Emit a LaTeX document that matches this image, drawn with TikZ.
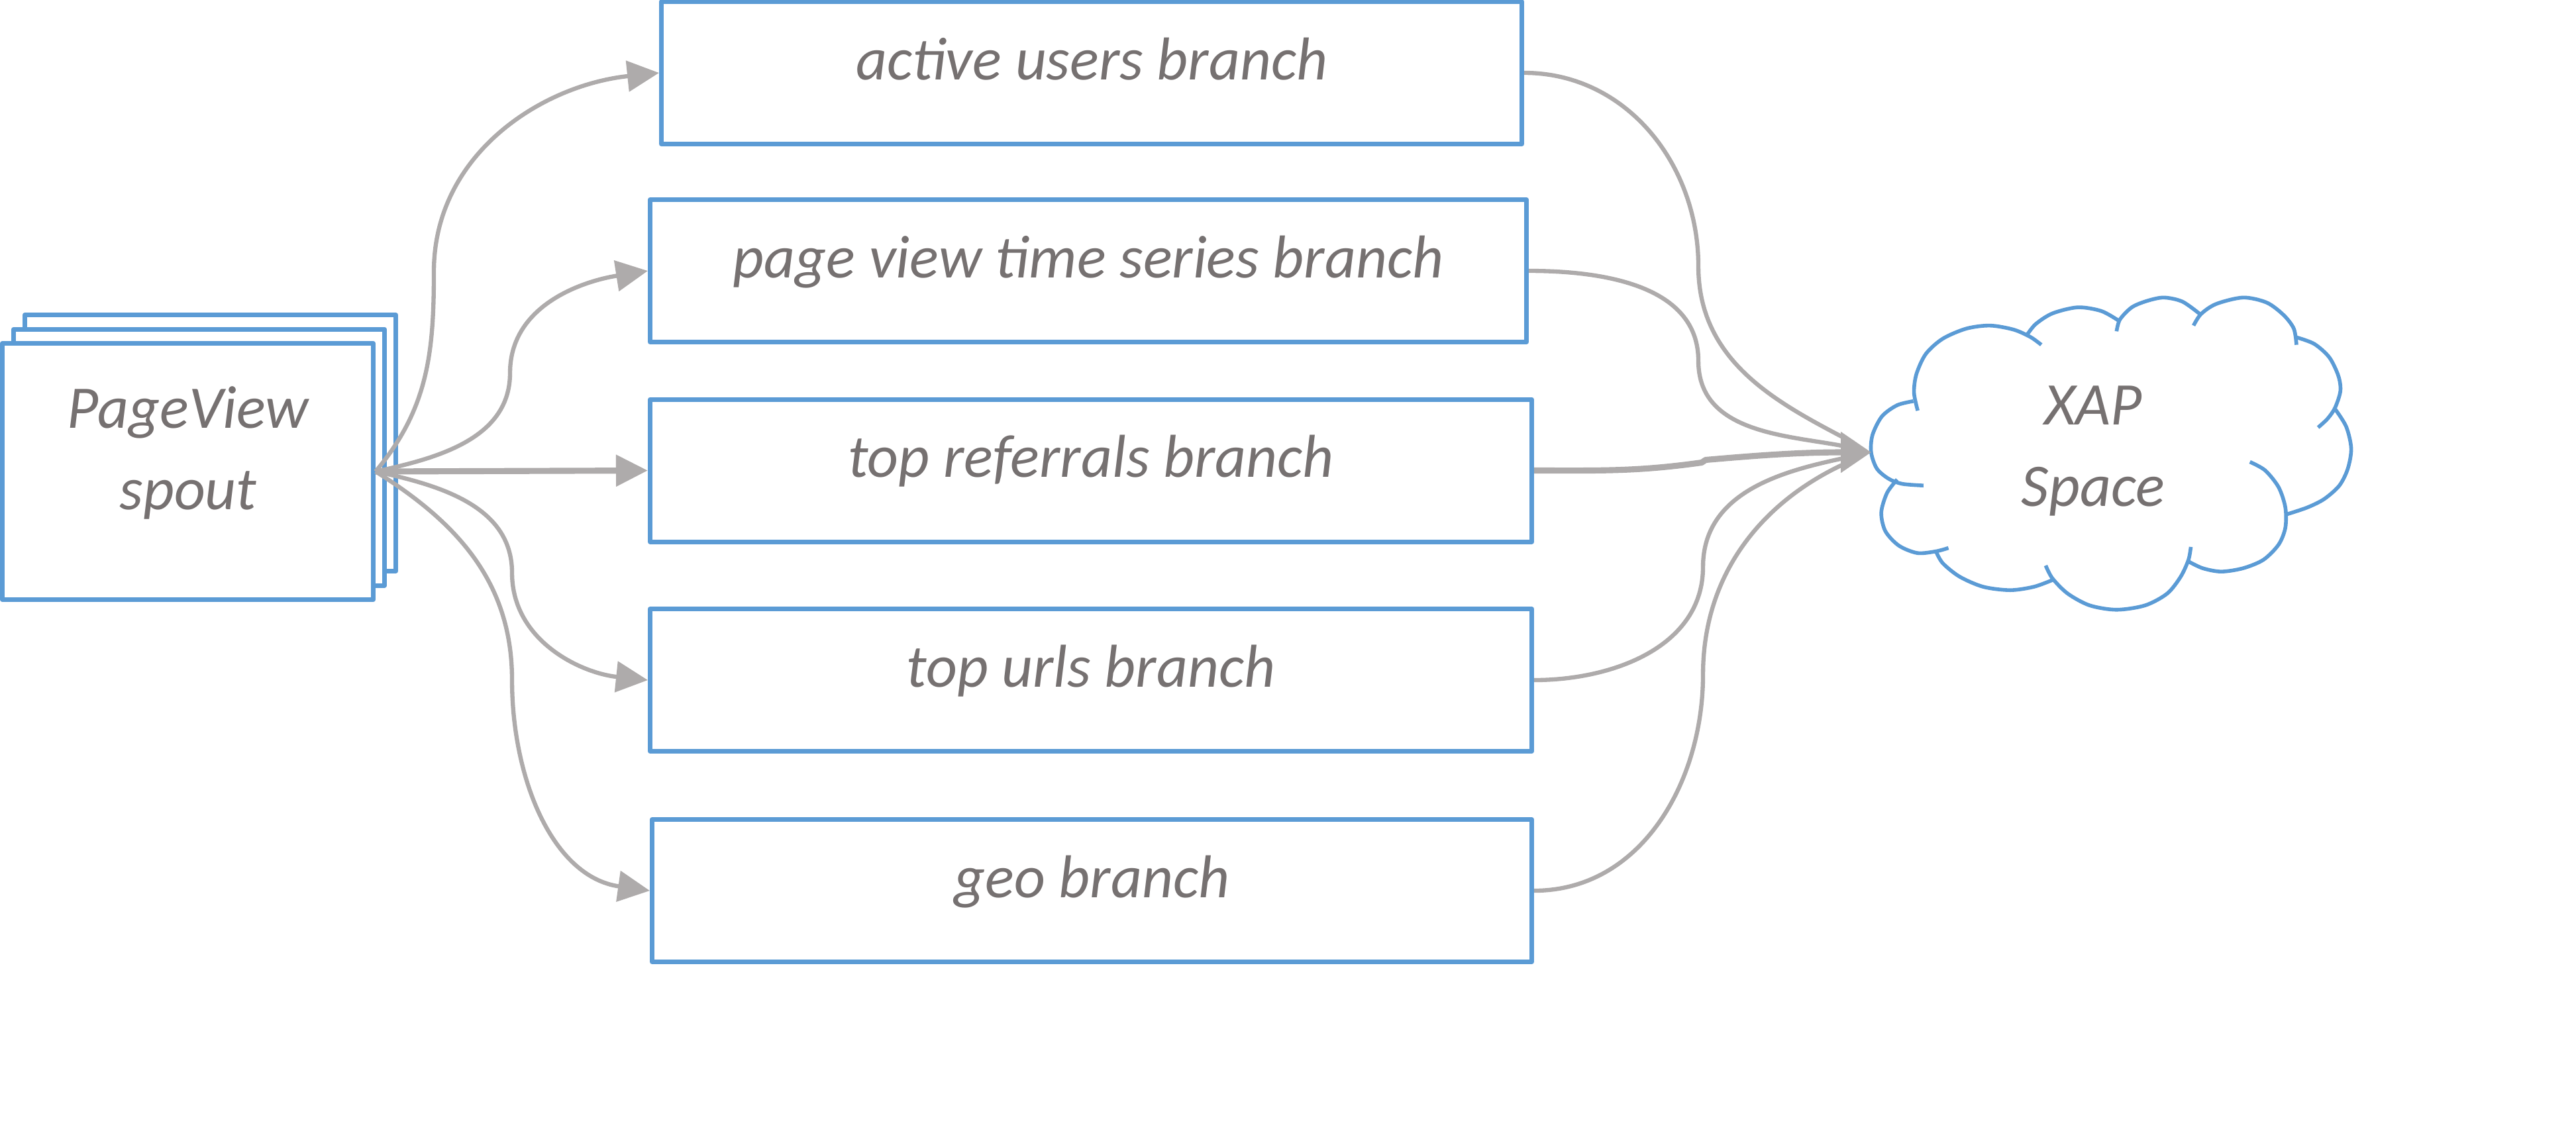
\documentclass[tikz,border=0pt]{standalone}
\usepackage{fontspec}
\setmainfont{Carlito}
\usetikzlibrary{arrows.meta}
\definecolor{xpblue}{HTML}{5B9BD5}
\definecolor{xpgrey}{HTML}{AEABAB}
\definecolor{xptext}{HTML}{767171}

\begin{document}
\begin{tikzpicture}[font=\fontsize{26}{35}\selectfont\itshape, line join=round,
    branch/.style={draw=xpblue, line width=2pt, fill=white, text=xptext, inner sep=0pt,
                   minimum height=2.15cm, text height=0.6cm, text depth=0.4cm},
    spoutbox/.style={draw=xpblue, line width=2pt, fill=white, inner sep=0pt,
                     minimum width=5.6cm, minimum height=3.87cm},
    lbl/.style={text=xptext, align=center, inner sep=0pt},
    puff/.style={draw=xpblue, line width=1.6pt, line cap=butt},
    feed/.style={draw=xpgrey, line width=1.8pt, -{Triangle[length=0.48cm,width=0.46cm]}},
    sink/.style={draw=xpgrey, line width=1.8pt, shorten >=0.3cm}]
  \useasboundingbox (0,0) rectangle (38.89,-17.16);
  % (1) the spout, drawn as a small stack
  \foreach \k in {2,1}
    \node[spoutbox] (spout\k) at ({2.835+0.17*\k},{-7.12+0.215*\k}) {};
  \node[spoutbox] (spout) at (2.835,-7.12) {};
  \node[lbl] (spoutlbl) at (2.84,-6.835) {PageView\\spout};
  % (2) the five branches
  \node[branch, minimum width=12.99cm] (b1) at (16.48,-1.10) {active users branch};
  \node[branch, minimum width=13.23cm] (b2) at (16.43,-4.09) {page view time series branch};
  \node[branch, minimum width=13.31cm] (b3) at (16.47,-7.105) {top referrals branch};
  \node[branch, minimum width=13.31cm] (b4) at (16.47,-10.27) {top urls branch};
  \node[branch, minimum width=13.28cm] (b5) at (16.485,-13.45) {geo branch};
  % (3) the space: one open arc per puff
  \begin{scope}[shift={(27.80,-3.00)}, x=0.0051cm, y=-0.0051cm]
    \draw[puff] plot[smooth] coordinates {(213,600) (165,612) (120,645) (92,700) (88,752)
      (105,800) (140,830) (180,845) (243,850)};
    \draw[puff] plot[smooth] coordinates {(226,628) (215,575) (222,520) (250,460) (300,415)
      (370,385) (440,376) (510,388) (560,410) (592,433)};
    \draw[puff] plot[smooth] coordinates {(548,406) (575,372) (625,340) (700,322) (770,333) (822,362)};
    \draw[puff] plot[smooth] coordinates {(815,393) (825,358) (860,322) (905,303) (955,293)
      (1010,305) (1062,342)};
    \draw[puff] plot[smooth] coordinates {(1043,376) (1065,342) (1110,312) (1190,293) (1260,308)
      (1310,345) (1340,385) (1348,433)};
    \draw[puff] plot[smooth] coordinates {(1345,410) (1400,430) (1445,470) (1472,525) (1478,570)
      (1462,620) (1440,652) (1412,678)};
    \draw[puff] plot[smooth] coordinates {(1460,620) (1495,675) (1510,740) (1500,800) (1475,850)
      (1430,890) (1380,915) (1320,935)};
    \draw[puff] plot[smooth] coordinates {(1210,780) (1255,805) (1295,855) (1315,915) (1315,975)
      (1295,1025) (1250,1070) (1190,1095) (1125,1105) (1070,1095) (1028,1075)};
    \draw[puff] plot[smooth] coordinates {(1035,1032) (1028,1070) (1005,1120) (965,1170) (900,1205)
      (815,1218) (735,1205) (670,1170) (625,1125) (605,1087)};
    \draw[puff] plot[smooth] coordinates {(625,1130) (570,1150) (500,1160) (420,1150) (350,1120)
      (300,1080) (280,1045)};
    \draw[puff] plot[smooth] coordinates {(165,832) (135,872) (118,930) (130,985) (170,1028)
      (225,1050) (280,1045) (317,1035)};
  \end{scope}
  \coordinate (xap) at (28.25,-6.83);
  \node[lbl] (xaplbl) at (31.60,-6.81) {XAP\\Space};
  % spout -> branches
  \draw[feed] (spout.east) to[out=50,in=-90] ++(0.88,3.02) to[out=90,in=186] (b1.west);
  \draw[feed] (spout.east) to[out=12,in=-90] ++(2.03,1.49) to[out=90,in=189] (b2.west);
  \draw[feed, line width=2.6pt] (spout.east) -- (b3.west);
  \draw[feed] (spout.east) to[out=-12,in=90] ++(2.06,-1.53) to[out=-90,in=174] (b4.west);
  \draw[feed] (spout.east) to[out=-32,in=90] ++(2.06,-3.15) to[out=-90,in=172] (b5.west);
  % branches -> space
  \draw[sink] (b1.east) to[out=0,in=90] ++(2.63,-2.92) to[out=-90,in=152] (xap);
  \draw[sink] (b2.east) to[out=0,in=90] ++(2.56,-1.36) to[out=-90,in=167] (xap);
  \draw[sink] (b4.east) to[out=0,in=-90] ++(2.55,1.71) to[out=90,in=192] (xap);
  \draw[sink] (b5.east) to[out=0,in=-90] ++(2.55,3.26) to[out=90,in=203] (xap);
  \draw[sink, line width=2.6pt, shorten >=0pt, -{Triangle[length=0.46cm,width=0.6cm]}]
    (b3.east) to[out=0,in=188] ++(2.53,0.12) -- ++(0.06,0.04) to[out=5,in=180] (xap);
\end{tikzpicture}
\end{document}
